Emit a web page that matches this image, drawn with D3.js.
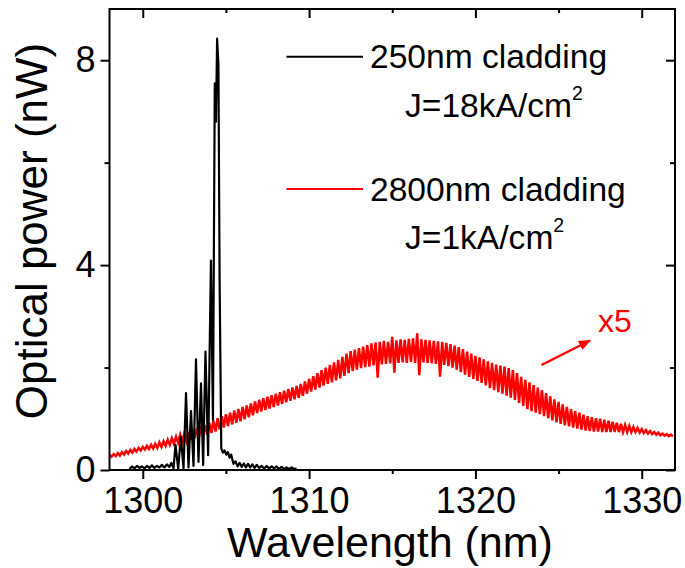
<!DOCTYPE html>
<html>
<head>
<meta charset="utf-8">
<script src="https://cdn.jsdelivr.net/npm/d3@7"></script>
<style>
  html, body { margin: 0; padding: 0; background: #fff; }
  text { font-family: "Liberation Sans", Arial, Helvetica, sans-serif; fill: #000; }
</style>
</head>
<body>
<svg id="chart" width="685" height="568"></svg>
<script>
// ---- Axis ticks ----
const xMajorTicks = [1300, 1310, 1320, 1330];
const xMinorTicks = [1305, 1315, 1325];
const yMajorTicks = [0, 4, 8];
const yMinorTicks = [2, 6];

// ---- 250 nm cladding, J = 18 kA/cm^2 (wavelength nm, power nW) ----
const blackWavelength = [
  1299.20, 1299.35, 1299.50, 1299.65, 1299.80, 1299.95, 1300.10, 1300.25, 1300.40, 1300.55,
  1300.70, 1300.85, 1301.00, 1301.15, 1301.30, 1301.45, 1301.60, 1301.72, 1301.85, 1301.97,
  1302.13, 1302.29, 1302.45, 1302.60, 1302.75, 1302.90, 1303.05, 1303.20, 1303.35, 1303.50,
  1303.63, 1303.77, 1303.93, 1304.10, 1304.22, 1304.33, 1304.40, 1304.47, 1304.55, 1304.62,
  1304.72, 1304.82, 1304.92, 1305.02, 1305.12, 1305.22, 1305.32, 1305.45, 1305.58, 1305.70,
  1305.82, 1305.95, 1306.08, 1306.20, 1306.33, 1306.46, 1306.59, 1306.72, 1306.85, 1307.00,
  1307.15, 1307.30, 1307.45, 1307.60, 1307.75, 1307.90, 1308.05, 1308.20, 1308.35, 1308.50,
  1308.65, 1308.80, 1308.95, 1309.10, 1309.25
];
const blackPower = [
  0.02, 0.07, 0.03, 0.08, 0.04, 0.07, 0.03, 0.08, 0.04, 0.09,
  0.04, 0.08, 0.05, 0.10, 0.05, 0.11, 0.06, 0.14, 0.03, 0.49,
  0.02, 0.65, 0.03, 1.50, 0.05, 1.15, 0.08, 2.16, 0.16, 1.69,
  0.10, 2.31, 0.29, 4.09, 0.98, 7.55, 6.80, 8.42, 7.90, 3.70,
  0.42, 0.34, 0.38, 0.30, 0.35, 0.24, 0.30, 0.12, 0.17, 0.07,
  0.14, 0.06, 0.13, 0.05, 0.12, 0.05, 0.11, 0.04, 0.10, 0.04,
  0.08, 0.03, 0.08, 0.03, 0.07, 0.03, 0.07, 0.02, 0.06, 0.02,
  0.05, 0.02, 0.05, 0.02, 0.03
];

// ---- 2800 nm cladding, J = 1 kA/cm^2 (x5) ----
// Fabry-Perot fringes sampled on a 0.25 nm grid starting at 1298 nm:
// maxima at the grid points, minima half a step later.
const redStart = 1298.0;
const redStep = 0.25;
const redMaxima = [
  0.30, 0.31, 0.33, 0.35,  0.37, 0.39, 0.41, 0.43,  0.45, 0.47, 0.49, 0.51,
  0.54, 0.56, 0.59, 0.62,  0.65, 0.69, 0.71, 0.74,  0.78, 0.81, 0.85, 0.88,
  0.92, 0.96, 1.01, 1.05,  1.09, 1.12, 1.16, 1.19,  1.23, 1.26, 1.30, 1.34,
  1.37, 1.40, 1.43, 1.46,  1.49, 1.52, 1.55, 1.58,  1.61, 1.64, 1.68, 1.73,
  1.78, 1.83, 1.89, 1.95,  2.00, 2.05, 2.10, 2.15,  2.21, 2.27, 2.32, 2.35,
  2.38, 2.41, 2.44, 2.47,  2.49, 2.50, 2.52, 2.50,  2.60, 2.53, 2.55, 2.54,
  2.56, 2.57, 2.67, 2.55,  2.54, 2.53, 2.52, 2.51,  2.50, 2.48, 2.46, 2.43,
  2.40, 2.36, 2.31, 2.27,  2.23, 2.20, 2.16, 2.12,  2.09, 2.06, 2.04, 2.02,
  1.99, 1.95, 1.89, 1.82,  1.76, 1.71, 1.66, 1.61,  1.56, 1.50, 1.44, 1.38,
  1.33, 1.28, 1.23, 1.19,  1.15, 1.12, 1.08, 1.05,  1.03, 1.01, 1.00, 0.98,
  0.96, 0.94, 0.92, 0.90,  0.88, 0.86, 0.84, 0.82,  0.80, 0.78, 0.76, 0.74,
  0.73, 0.71, 0.70, 0.69
];
const redMinima = [
  0.26, 0.27, 0.28, 0.30,  0.32, 0.34, 0.36, 0.38,  0.40, 0.41, 0.42, 0.43,
  0.45, 0.47, 0.49, 0.51,  0.53, 0.55, 0.57, 0.59,  0.62, 0.64, 0.67, 0.69,
  0.72, 0.75, 0.79, 0.83,  0.86, 0.89, 0.92, 0.95,  0.99, 1.03, 1.07, 1.11,
  1.14, 1.17, 1.20, 1.23,  1.26, 1.29, 1.32, 1.35,  1.38, 1.41, 1.45, 1.49,
  1.53, 1.57, 1.61, 1.65,  1.68, 1.71, 1.75, 1.79,  1.84, 1.89, 1.93, 1.96,
  1.99, 2.01, 2.02, 2.04,  1.80, 2.06, 2.07, 2.08,  1.90, 2.09, 2.10, 2.09,
  2.11, 2.09, 1.85, 2.10,  2.09, 2.08, 2.07, 1.82,  2.05, 2.03, 2.00, 1.96,
  1.91, 1.86, 1.82, 1.78,  1.74, 1.70, 1.65, 1.60,  1.56, 1.52, 1.49, 1.45,
  1.41, 1.37, 1.31, 1.25,  1.19, 1.15, 1.12, 1.09,  1.05, 1.01, 0.97, 0.93,
  0.90, 0.87, 0.85, 0.83,  0.81, 0.79, 0.77, 0.76,  0.75, 0.75, 0.74, 0.74,
  0.74, 0.74, 0.74, 0.74,  0.74, 0.74, 0.74, 0.73,  0.72, 0.71, 0.70, 0.69,
  0.68, 0.67, 0.66, 0.66
];

// ---- Legend entries ----
const legendItems = [
  { label: "250nm cladding", current: "J=18kA/cm", color: "#000000" },
  { label: "2800nm cladding", current: "J=1kA/cm", color: "#ff0000" }
];
const scaleNote = "x5";

// ---- Layout ----
const svg = d3.select("#chart");
const plot = { left: 109.5, right: 675, top: 9, bottom: 470 };

const x = d3.scaleLinear().domain([1298, 1332]).range([plot.left, plot.right]);
const y = d3.scaleLinear().domain([0, 9]).range([plot.bottom, plot.top]);

const defs = svg.append("defs");
defs.append("clipPath").attr("id", "plot-clip")
  .append("rect")
  .attr("x", plot.left).attr("y", plot.top)
  .attr("width", plot.right - plot.left).attr("height", plot.bottom - plot.top);

// Build the red fringe trace: maximum, then minimum half a step later
const redPoints = [];
redMaxima.forEach((v, i) => {
  const wl = redStart + i * redStep;
  redPoints.push([wl, v]);
  redPoints.push([wl + redStep / 2, redMinima[i]]);
});
const blackPoints = blackWavelength.map((wl, i) => [wl, blackPower[i]]);

const line = d3.line().x(d => x(d[0])).y(d => y(d[1]));

const traces = svg.append("g").attr("clip-path", "url(#plot-clip)");
traces.append("path")
  .attr("d", line(redPoints))
  .attr("fill", "none")
  .attr("stroke", "#ff0000")
  .attr("stroke-width", 2.5)
  .attr("stroke-linejoin", "miter");
traces.append("path")
  .attr("d", line(blackPoints))
  .attr("fill", "none")
  .attr("stroke", "#000000")
  .attr("stroke-width", 2.2)
  .attr("stroke-linejoin", "round");

// ---- Axes ----
function styleAxis(g) {
  g.select(".domain").remove();
  g.selectAll(".tick line").attr("stroke", "#000").attr("stroke-width", 2);
  g.selectAll(".tick text")
    .attr("font-family", "'Liberation Sans', Arial, sans-serif")
    .attr("font-size", 36)
    .attr("fill", "#000");
}

svg.append("g").attr("transform", `translate(0,${plot.bottom})`)
  .call(d3.axisBottom(x).tickValues(xMajorTicks).tickSize(9).tickPadding(8).tickFormat(d3.format("d")))
  .call(styleAxis);
svg.append("g").attr("transform", `translate(0,${plot.bottom})`)
  .call(d3.axisBottom(x).tickValues(xMinorTicks).tickSize(4).tickFormat(""))
  .call(styleAxis);
svg.append("g").attr("transform", `translate(0,${plot.top})`)
  .call(d3.axisTop(x).tickValues(xMajorTicks).tickSize(-9).tickFormat(""))
  .call(styleAxis);
svg.append("g").attr("transform", `translate(0,${plot.top})`)
  .call(d3.axisTop(x).tickValues(xMinorTicks).tickSize(-4).tickFormat(""))
  .call(styleAxis);

svg.append("g").attr("transform", `translate(${plot.left},0)`)
  .call(d3.axisLeft(y).tickValues(yMajorTicks).tickSize(9).tickPadding(5).tickFormat(d3.format("d")))
  .call(styleAxis);
svg.append("g").attr("transform", `translate(${plot.left},0)`)
  .call(d3.axisLeft(y).tickValues(yMinorTicks).tickSize(5).tickFormat(""))
  .call(styleAxis);
svg.append("g").attr("transform", `translate(${plot.right},0)`)
  .call(d3.axisRight(y).tickValues(yMajorTicks).tickSize(-9).tickFormat(""))
  .call(styleAxis);
svg.append("g").attr("transform", `translate(${plot.right},0)`)
  .call(d3.axisRight(y).tickValues(yMinorTicks).tickSize(-5).tickFormat(""))
  .call(styleAxis);

// Frame
svg.append("rect")
  .attr("x", plot.left).attr("y", plot.top)
  .attr("width", plot.right - plot.left).attr("height", plot.bottom - plot.top)
  .attr("fill", "none").attr("stroke", "#000").attr("stroke-width", 2);

// ---- Axis titles ----
svg.append("text")
  .attr("x", 390).attr("y", 557)
  .attr("text-anchor", "middle")
  .attr("font-size", 43)
  .text("Wavelength (nm)");

svg.append("text")
  .attr("transform", "translate(47,231) rotate(-90)")
  .attr("text-anchor", "middle")
  .attr("font-size", 44)
  .text("Optical power (nW)");

// ---- Legend ----
const legend = svg.append("g");
const legendRows = [56.7, 189];
legendItems.forEach((item, i) => {
  const ly = legendRows[i];
  legend.append("line")
    .attr("x1", 286.5).attr("x2", 363)
    .attr("y1", ly).attr("y2", ly)
    .attr("stroke", item.color).attr("stroke-width", 2);
  legend.append("text")
    .attr("x", 370).attr("y", ly + 11.5)
    .attr("font-size", 33.6)
    .text(item.label);
  const t = legend.append("text")
    .attr("x", 405).attr("y", ly + 60)
    .attr("font-size", 33.6)
    .text(item.current);
  t.append("tspan")
    .attr("dy", -17)
    .attr("font-size", 19.5)
    .text("2");
});

// ---- x5 annotation with arrow ----
defs.append("marker")
  .attr("id", "arrowhead")
  .attr("viewBox", "0 0 12 10")
  .attr("refX", 11).attr("refY", 5)
  .attr("markerWidth", 12).attr("markerHeight", 10)
  .attr("markerUnits", "userSpaceOnUse")
  .attr("orient", "auto")
  .append("path")
  .attr("d", "M0,0 L12,5 L0,10 Z")
  .attr("fill", "#ff0000");

svg.append("line")
  .attr("x1", 541.5).attr("y1", 365)
  .attr("x2", 590).attr("y2", 340.5)
  .attr("stroke", "#ff0000").attr("stroke-width", 2.5)
  .attr("marker-end", "url(#arrowhead)");

svg.append("text")
  .attr("x", 598).attr("y", 332)
  .attr("font-size", 32)
  .style("fill", "#ff0000")
  .text(scaleNote);
</script>
</body>
</html>
